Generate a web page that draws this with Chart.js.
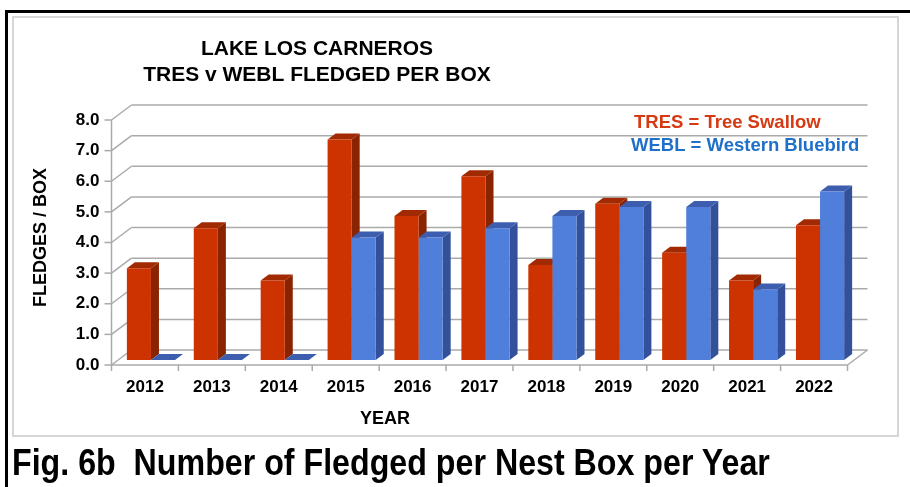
<!DOCTYPE html>
<html>
<head>
<meta charset="utf-8">
<script src="https://cdn.jsdelivr.net/npm/chart.js@4.4.1/dist/chart.umd.min.js"></script>
<style>
  body { margin: 0; width: 910px; height: 487px; overflow: hidden; background: #fff; position: relative;
         font-family: "Liberation Sans", Arial, sans-serif; }
  #frame { position: absolute; left: 5px; top: 10px; width: 1000px; height: 600px;
           border-left: 3px solid #000; border-top: 3px solid #000; }
  #box { position: absolute; left: 12px; top: 16px; width: 883px; height: 417px; border: 2px solid #d6d6d6; }
  #chart { position: absolute; left: 0; top: 0; }
  #caption { position: absolute; left: 12px; top: 441px; font-weight: bold; font-size: 37px;
             line-height: 43px; white-space: nowrap; color: #000;
             transform-origin: 0 0; transform: scaleX(0.87); }
</style>
</head>
<body>
<div id="frame"></div>
<div id="box"></div>
<canvas id="chart" width="910" height="487"></canvas>
<div id="caption">Fig. 6b&nbsp; Number of Fledged per Nest Box per Year</div>
<script>
const years = ['2012', '2013', '2014', '2015', '2016', '2017', '2018', '2019', '2020', '2021', '2022'];
const tresPerBox = [3.0, 4.3, 2.6, 7.2, 4.7, 6.0, 3.1, 5.1, 3.5, 2.6, 4.4];
const weblPerBox = [0, 0, 0, 4.0, 4.0, 4.3, 4.7, 5.0, 5.0, 2.3, 5.5];
const titleLines = ['LAKE LOS CARNEROS', 'TRES v WEBL FLEDGED PER BOX'];
const legendLines = ['TRES = Tree Swallow', 'WEBL = Western Bluebird'];

// 3d look: front edge of the floor, back wall, and bar depth, as offsets from the bar plane
const FRONT = [-6, 5];
const BACK = [14, -10];
const DEPTH = [8, -6];
const gridColor = '#aaaaaa';
const faces = [
  { front: '#cc3300', side: '#8a2300', top: '#a22a02' },
  { front: '#4f7fdb', side: '#33519b', top: '#3d5eae' }
];

function fillPoly(ctx, pts, color) {
  ctx.beginPath();
  ctx.moveTo(pts[0][0], pts[0][1]);
  for (let i = 1; i < pts.length; i++) ctx.lineTo(pts[i][0], pts[i][1]);
  ctx.closePath();
  ctx.fillStyle = color;
  ctx.fill();
}

function line(ctx, x1, y1, x2, y2) {
  ctx.beginPath();
  ctx.moveTo(x1, y1);
  ctx.lineTo(x2, y2);
  ctx.stroke();
}

const box3d = {
  id: 'box3d',
  beforeDatasetsDraw(chart) {
    const { ctx, chartArea: a, scales: { x, y } } = chart;
    ctx.save();
    ctx.strokeStyle = gridColor;
    ctx.lineWidth = 1.5;

    // back wall grid + slanted side wall lines + front ticks
    y.ticks.forEach(t => {
      const py = y.getPixelForValue(t.value);
      line(ctx, a.left + BACK[0], py + BACK[1], a.right + BACK[0], py + BACK[1]);
      line(ctx, a.left + FRONT[0], py + FRONT[1], a.left + BACK[0], py + BACK[1]);
      line(ctx, a.left + FRONT[0] - 7, py + FRONT[1], a.left + FRONT[0], py + FRONT[1]);
    });
    const y0 = y.getPixelForValue(0);
    const yTop = y.getPixelForValue(y.max);
    line(ctx, a.left + FRONT[0], y0 + FRONT[1], a.left + FRONT[0], yTop + FRONT[1]);

    // floor front edge and right edge
    line(ctx, a.left + FRONT[0], y0 + FRONT[1], a.right + FRONT[0], y0 + FRONT[1]);
    line(ctx, a.right + FRONT[0], y0 + FRONT[1], a.right + BACK[0], y0 + BACK[1]);

    // category ticks under the floor
    const half = (a.right - a.left) / years.length / 2;
    for (let i = 0; i <= years.length; i++) {
      const px = (i < years.length ? x.getPixelForValue(i) - half : a.right) + FRONT[0];
      line(ctx, px, y0 + FRONT[1], px, y0 + FRONT[1] + 6);
    }

    // side and top faces of each bar; fronts are drawn by Chart.js afterwards
    chart.data.datasets.forEach((ds, d) => {
      chart.getDatasetMeta(d).data.forEach(el => {
        const x0 = el.x - el.width / 2, x1 = el.x + el.width / 2;
        const top = el.y, base = el.base;
        fillPoly(ctx, [[x1, top], [x1 + DEPTH[0], top + DEPTH[1]],
          [x1 + DEPTH[0], base + DEPTH[1]], [x1, base]], faces[d].side);
        fillPoly(ctx, [[x0, top], [x1, top], [x1 + DEPTH[0], top + DEPTH[1]],
          [x0 + DEPTH[0], top + DEPTH[1]]], faces[d].top);
      });
    });
    ctx.restore();
  },
  afterDraw(chart) {
    const { ctx } = chart;
    ctx.save();
    ctx.fillStyle = '#000';
    ctx.textAlign = 'center';
    ctx.font = 'bold 21px "Liberation Sans", Arial, sans-serif';
    ctx.fillText(titleLines[0], 317, 55);
    ctx.fillText(titleLines[1], 317, 81);

    ctx.font = 'bold 18px "Liberation Sans", Arial, sans-serif';
    ctx.fillText('YEAR', 385, 424);

    ctx.font = 'bold 18.5px "Liberation Sans", Arial, sans-serif';
    ctx.textAlign = 'left';
    ctx.fillStyle = '#d53a12';
    ctx.fillText(legendLines[0], 634, 128);
    ctx.fillStyle = '#1f70c8';
    ctx.fillText(legendLines[1], 631, 151);
    ctx.restore();
  }
};

const ctx = document.getElementById('chart').getContext('2d');

const data = {
  labels: years,
  datasets: [
    { label: 'TRES', data: tresPerBox, backgroundColor: faces[0].front, borderWidth: 0 },
    { label: 'WEBL', data: weblPerBox, backgroundColor: faces[1].front, borderWidth: 0 }
  ]
};

const config = {
  type: 'bar',
  data: data,
  options: {
    responsive: false,
    animation: false,
    devicePixelRatio: 1,
    categoryPercentage: 0.72,
    barPercentage: 1.0,
    layout: { padding: { left: 0, top: 115, right: 56.5, bottom: 0 } },
    plugins: {
      legend: { display: false },
      title: { display: false },
      tooltip: { enabled: false }
    },
    scales: {
      x: {
        grid: { display: false, drawTicks: false },
        border: { display: false },
        ticks: {
          color: '#000',
          font: { family: '"Liberation Sans", Arial, sans-serif', size: 17, weight: 'bold' },
          padding: 17,
          labelOffset: FRONT[0],
          maxRotation: 0
        },
        afterFit(scale) { scale.height = 127; }
      },
      y: {
        min: 0,
        max: 8,
        grid: { display: false, drawTicks: false },
        border: { display: false },
        ticks: {
          stepSize: 1,
          color: '#000',
          font: { family: '"Liberation Sans", Arial, sans-serif', size: 17, weight: 'bold' },
          padding: 18,
          labelOffset: FRONT[1],
          callback: v => v.toFixed(1)
        },
        title: {
          display: true,
          text: 'FLEDGES / BOX',
          color: '#000',
          font: { family: '"Liberation Sans", Arial, sans-serif', size: 18, weight: 'bold' },
          padding: { top: 30, bottom: 0 }
        },
        afterFit(scale) { scale.width = 117.5; }
      }
    }
  },
  plugins: [box3d]
};

const chart = new Chart(ctx, config);
</script>
</body>
</html>
